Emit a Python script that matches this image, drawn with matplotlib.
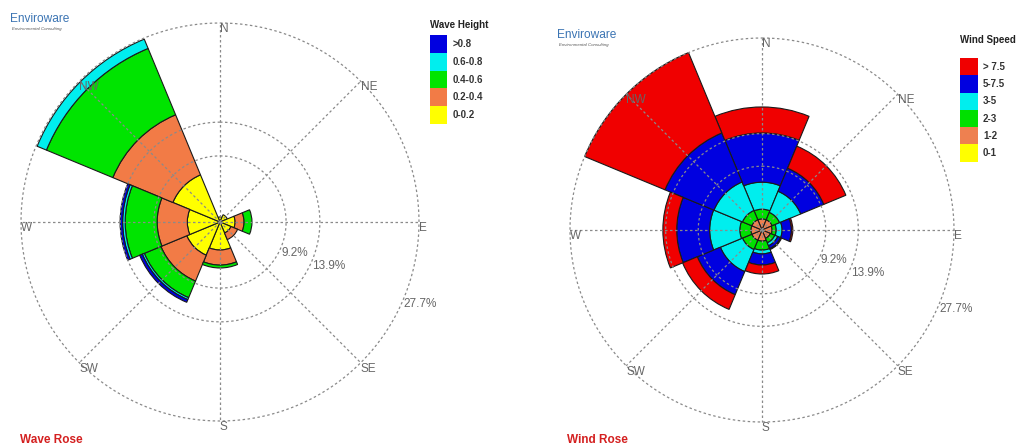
import numpy as np
import matplotlib.pyplot as plt
from matplotlib.patches import Rectangle

plt.rcParams['font.family'] = ['Liberation Sans', 'DejaVu Sans']

W, H = 1018, 448

directions = ['N', 'NE', 'E', 'SE', 'S', 'SW', 'W', 'NW']
ring_levels = [9.2, 13.9, 27.7]

# wave rose: frequency (%) per direction for each wave height class
wave_classes = ['0-0.2', '0.2-0.4', '0.4-0.6', '0.6-0.8', '>0.8']
wave_colors = ['#ffff00', '#f27b46', '#00e400', '#00eeee', '#0000e0']
wave_00_02 = [0.7, 1.1, 2.1, 1.65, 3.9, 5.0, 4.55, 7.1]
wave_02_04 = [0, 0, 1.25, 1.0, 2.1, 3.9, 4.2, 9.05]
wave_04_06 = [0, 0, 1.1, 0, 0.4, 2.5, 4.45, 10.0]
wave_06_08 = [0, 0, 0, 0, 0, 0.3, 0.35, 1.4]
wave_gt_08 = [0, 0, 0, 0, 0, 0.4, 0.35, 0]

# wind rose: frequency (%) per direction for each wind speed class
wind_classes = ['0-1', '1-2', '2-3', '3-5', '5-7.5', '> 7.5']
wind_colors = ['#ffff00', '#ee8050', '#00e000', '#00eeee', '#0000e0', '#f00000']
wind_0_1 = [0.2, 0.2, 0.2, 0.2, 0.2, 0.2, 0.2, 0.2]
wind_1_2 = [1.4, 1.4, 1.25, 1.1, 1.4, 1.4, 1.4, 1.4]
wind_2_3 = [1.4, 1.15, 0.6, 0.7, 1.3, 1.45, 1.6, 1.45]
wind_3_5 = [3.9, 3.3, 0.85, 0.45, 0.55, 3.45, 4.35, 4.45]
wind_5_75 = [7.1, 3.6, 1.35, 0.45, 1.6, 3.6, 4.75, 7.65]
wind_gt_75 = [3.75, 3.45, 0.2, 0.15, 1.3, 2.3, 2.0, 12.55]

GRID = '#8a8a8a'
LABEL = '#666666'


def draw_rose(fig, cx, cy, radius, series, colors):
    """Stacked polar bars with dashed rings and spokes, centre/radius in pixels."""
    rmax = ring_levels[-1]
    pad = 1.06
    rpx = radius * pad
    ax = fig.add_axes([(cx - rpx) / W, (H - cy - rpx) / H, 2 * rpx / W, 2 * rpx / H],
                      projection='polar')
    ax.set_theta_zero_location('N')
    ax.set_theta_direction(-1)
    ax.set_ylim(0, rmax * pad)
    ax.grid(False)
    ax.set_xticks([])
    ax.set_yticks([])
    ax.spines['polar'].set_visible(False)
    ax.patch.set_alpha(0)

    theta = np.radians(np.arange(len(directions)) * 45.0)
    bottom = np.zeros(len(directions))
    for vals, col in zip(series, colors):
        vals = np.array(vals, dtype=float)
        m = vals > 0
        ax.bar(theta[m], vals[m], width=np.radians(45), bottom=bottom[m],
               color=col, edgecolor='#1a1a1a', linewidth=0.8, zorder=2)
        bottom += vals

    t = np.linspace(0, 2 * np.pi, 361)
    for r in ring_levels:
        ax.plot(t, np.full_like(t, r), color=GRID, lw=0.9, ls=(0, (2, 2)),
                zorder=3, clip_on=False)
    for th in theta:
        ax.plot([th, th], [0, rmax], color=GRID, lw=0.9, ls=(0, (2, 2)), zorder=3)

    for th, name in zip(theta, directions):
        ax.text(th, rmax, name, ha='left', va='top', fontsize=8.5, color=LABEL)
    for r in ring_levels:
        ax.text(np.radians(112.5), r, f'{r}%', ha='left', va='top',
                fontsize=8.5, color=LABEL)
    return ax


def draw_legend(fig, x, y_title, y_top, title, labels, colors, bw, bh, tx):
    fig.text(x / W, 1 - y_title / H, title, fontsize=7, fontweight='bold',
             ha='left', va='center', color='#222222')
    for i, (lab, col) in enumerate(zip(labels[::-1], colors[::-1])):
        top = y_top + i * bh
        fig.patches.append(Rectangle((x / W, 1 - (top + bh) / H), bw / W, bh / H,
                                     transform=fig.transFigure, facecolor=col,
                                     edgecolor='none'))
        fig.text(tx / W, 1 - (top + bh / 2) / H, lab, fontsize=7, fontweight='bold',
                 ha='left', va='center', color='#333333')


def draw_logo(fig, x, y):
    fig.text(x / W, 1 - y / H, 'Enviroware', fontsize=8.6, color='#3b74b3',
             ha='left', va='center')
    fig.text((x + 2) / W, 1 - (y + 10) / H, 'Environmental Consulting', fontsize=3.2,
             color='#555555', style='italic', ha='left', va='center')


fig = plt.figure(figsize=(W / 100, H / 100), dpi=100)
fig.patch.set_facecolor('white')

draw_rose(fig, 220, 222, 199,
          [wave_00_02, wave_02_04, wave_04_06, wave_06_08, wave_gt_08], wave_colors)
draw_rose(fig, 762, 230, 192,
          [wind_0_1, wind_1_2, wind_2_3, wind_3_5, wind_5_75, wind_gt_75], wind_colors)

draw_legend(fig, 430, 25, 35, 'Wave Height', wave_classes, wave_colors, 17, 17.8, 453)
draw_legend(fig, 960, 40, 58, 'Wind Speed', wind_classes, wind_colors, 18, 17.3, 983)

draw_logo(fig, 10, 19)
draw_logo(fig, 557, 35)

fig.text(20 / W, 1 - 440 / H, 'Wave Rose', fontsize=8.5, fontweight='bold',
         color='#d42020', ha='left', va='center')
fig.text(567 / W, 1 - 440 / H, 'Wind Rose', fontsize=8.5, fontweight='bold',
         color='#d42020', ha='left', va='center')

fig.savefig('out.png', dpi=100)
